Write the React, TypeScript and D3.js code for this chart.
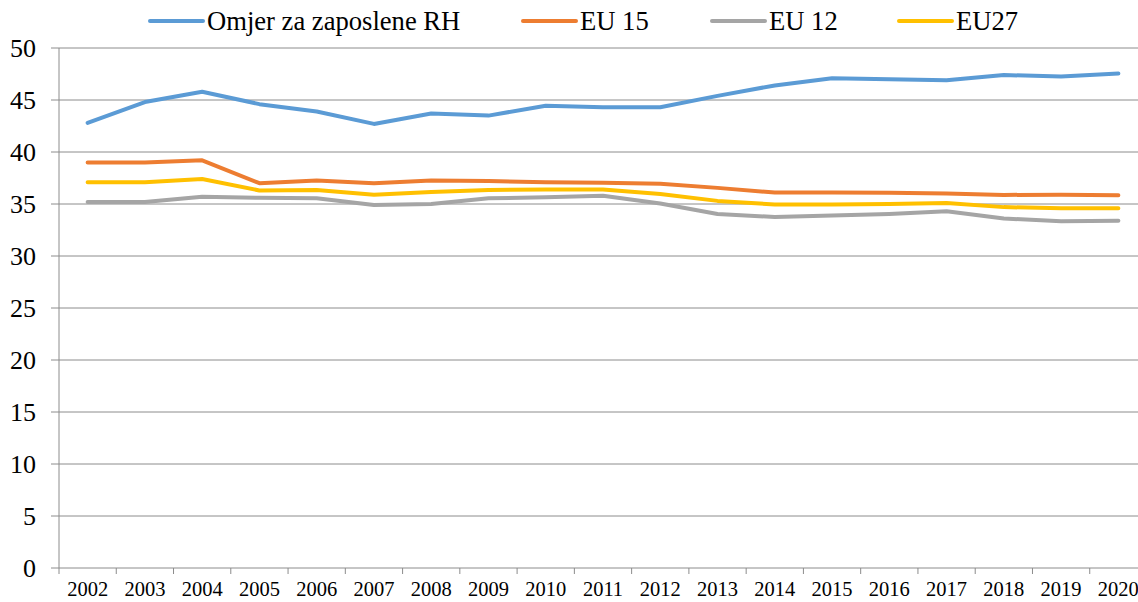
import * as d3 from "d3";

const years = ["2002", "2003", "2004", "2005", "2006", "2007", "2008", "2009", "2010", "2011",
  "2012", "2013", "2014", "2015", "2016", "2017", "2018", "2019", "2020"];

const omjerRH = [42.8, 44.8, 45.8, 44.6, 43.9, 42.7, 43.7, 43.5, 44.45, 44.3,
  44.3, 45.4, 46.4, 47.1, 47.0, 46.9, 47.4, 47.25, 47.55];
const eu15 = [39.0, 39.0, 39.2, 37.0, 37.25, 37.0, 37.25, 37.2, 37.1, 37.05,
  36.95, 36.55, 36.1, 36.1, 36.08, 36.0, 35.87, 35.9, 35.85];
const eu12 = [35.2, 35.2, 35.7, 35.6, 35.55, 34.9, 35.0, 35.55, 35.65, 35.8,
  35.05, 34.04, 33.75, 33.9, 34.04, 34.3, 33.6, 33.35, 33.4];
const eu27 = [37.1, 37.1, 37.4, 36.3, 36.35, 35.9, 36.15, 36.35, 36.4, 36.4,
  35.96, 35.3, 34.95, 34.95, 35.0, 35.1, 34.7, 34.6, 34.6];

const yTicks = [0, 5, 10, 15, 20, 25, 30, 35, 40, 45, 50];

const series = [
  { name: "Omjer za zaposlene RH", values: omjerRH, color: "#5B9BD5" },
  { name: "EU 15", values: eu15, color: "#ED7D31" },
  { name: "EU 12", values: eu12, color: "#A5A5A5" },
  { name: "EU27", values: eu27, color: "#FFC000" },
];

// legend line start positions
const legendX = [150, 523, 712, 899];

export default function App() {
  const width = 1138;
  const height = 602;
  const left = 59;
  const right = 1147;
  const top = 48;
  const bottom = 568;

  const x = d3.scaleBand<string>().domain(years).range([left, right]).padding(0);
  const y = d3.scaleLinear().domain([0, 50]).range([bottom, top]);

  const line = d3
    .line<number>()
    .x((_, i) => (x(years[i]) as number) + x.bandwidth() / 2)
    .y((d) => y(d));

  const font = "'Liberation Serif', 'Times New Roman', Times, serif";
  const gridColor = "#8c8c8c";

  const boundaries = years.map((yr) => x(yr) as number).concat([right]);

  return (
    <svg
      width={width}
      height={height}
      style={{ position: "absolute", left: 0, top: 0, background: "#fff", fontFamily: font }}
    >
      {/* gridlines */}
      {yTicks.filter((t) => t > 0).map((t) => (
        <line key={t} x1={left} x2={width} y1={y(t)} y2={y(t)} stroke={gridColor} strokeWidth={1} />
      ))}
      {/* y axis */}
      <line x1={left} x2={left} y1={top} y2={bottom} stroke={gridColor} strokeWidth={1} />
      {yTicks.map((t) => (
        <g key={t}>
          <line x1={left - 8} x2={left} y1={y(t)} y2={y(t)} stroke={gridColor} strokeWidth={1} />
          <text x={36} y={y(t)} dy="0.36em" textAnchor="end" fontSize={26} fill="#000">
            {t}
          </text>
        </g>
      ))}
      {/* x axis */}
      <line x1={left} x2={width} y1={bottom} y2={bottom} stroke={gridColor} strokeWidth={1} />
      {boundaries.map((b, i) => (
        <line key={i} x1={b} x2={b} y1={bottom} y2={bottom + 6} stroke={gridColor} strokeWidth={1} />
      ))}
      {years.map((yr) => (
        <text
          key={yr}
          x={(x(yr) as number) + x.bandwidth() / 2}
          y={596}
          textAnchor="middle"
          fontSize={20.5}
          fill="#000"
        >
          {yr}
        </text>
      ))}
      {/* series */}
      {series.map((s) => (
        <path
          key={s.name}
          d={line(s.values) || ""}
          fill="none"
          stroke={s.color}
          strokeWidth={4}
          strokeLinejoin="round"
          strokeLinecap="round"
        />
      ))}
      {/* legend */}
      {series.map((s, i) => (
        <g key={s.name}>
          <line
            x1={legendX[i]}
            x2={legendX[i] + 53}
            y1={21}
            y2={21}
            stroke={s.color}
            strokeWidth={4}
            strokeLinecap="round"
          />
          <text x={legendX[i] + 57} y={30} fontSize={26.6} fill="#000">
            {s.name}
          </text>
        </g>
      ))}
    </svg>
  );
}
